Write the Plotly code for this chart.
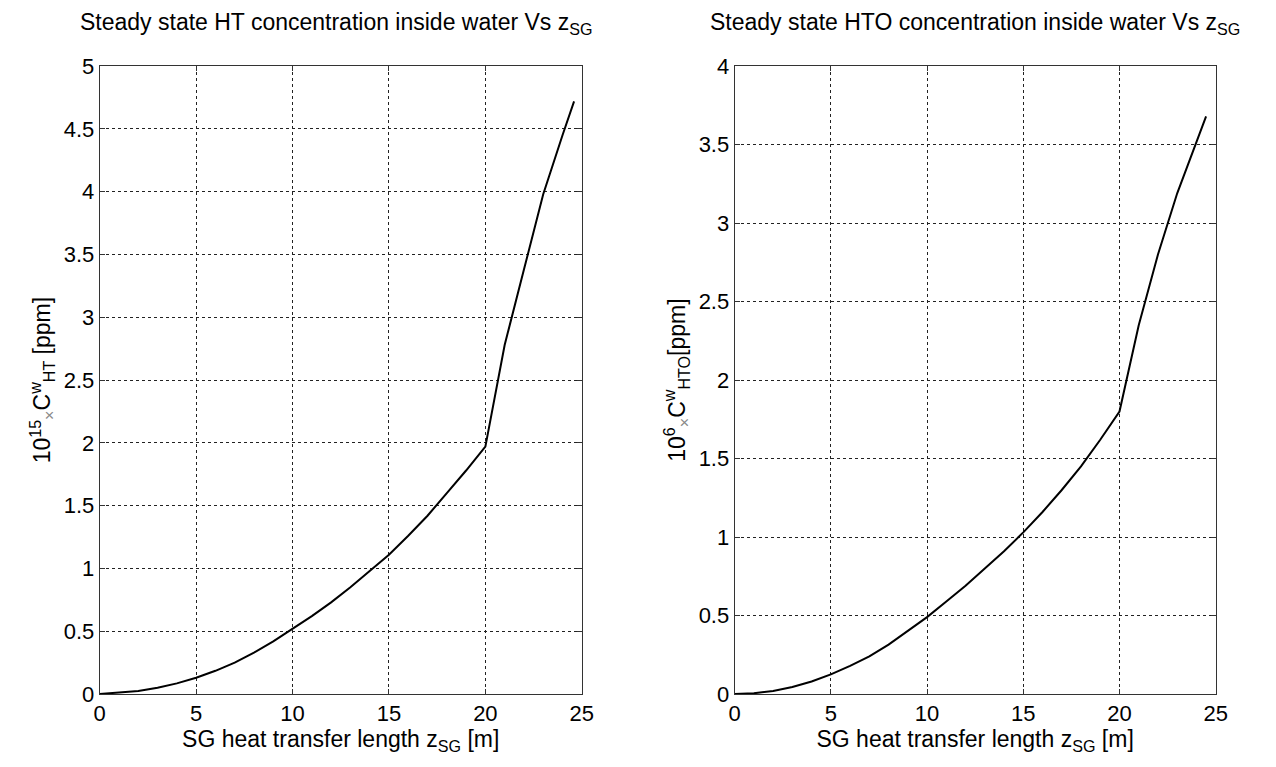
import plotly.graph_objects as go

# Data
z_ht = [0, 1, 2, 3, 4, 5, 6, 7, 8, 9, 10, 11, 12, 13, 14, 15, 16, 17, 18, 19, 20,
        21, 22, 23, 24, 24.6]
c_ht = [0.0, 0.01, 0.025, 0.05, 0.085, 0.13, 0.185, 0.25, 0.33, 0.42, 0.52, 0.62,
        0.73, 0.85, 0.98, 1.11, 1.26, 1.42, 1.6, 1.78, 1.97,
        2.78, 3.38, 3.98, 4.45, 4.72]

z_hto = [0, 1, 2, 3, 4, 5, 6, 7, 8, 9, 10, 11, 12, 13, 14, 15, 16, 17, 18, 19, 20,
         21, 22, 23, 24, 24.5]
c_hto = [0.0, 0.005, 0.02, 0.045, 0.08, 0.125, 0.18, 0.24, 0.315, 0.4, 0.49, 0.59,
         0.69, 0.8, 0.91, 1.03, 1.16, 1.3, 1.45, 1.62, 1.8,
         2.35, 2.8, 3.19, 3.51, 3.68]

x_ticks = [0, 5, 10, 15, 20, 25]
y_ticks_ht = [0, 0.5, 1, 1.5, 2, 2.5, 3, 3.5, 4, 4.5, 5]
y_ticks_hto = [0, 0.5, 1, 1.5, 2, 2.5, 3, 3.5, 4]

titles = ["Steady state HT concentration inside water Vs z<sub>SG</sub>",
          "Steady state HTO concentration inside water Vs z<sub>SG</sub>"]
x_label = "SG heat transfer length z<sub>SG</sub> [m]"
y_labels = ["10<sup>15</sup><sub><span style='color:#888'>×</span></sub>C<sup>w</sup><sub>HT</sub> [ppm]",
            "10<sup>6</sup><sub><span style='color:#888'>×</span></sub>C<sup>w</sup><sub>HTO</sub>[ppm]"]

FONT = "Liberation Sans, Arial, sans-serif"
TICK_SIZE = 22
TEXT_SIZE = 23

fig = go.Figure()
fig.add_trace(go.Scatter(x=z_ht, y=c_ht, mode="lines", line=dict(color="black", width=2),
                         xaxis="x", yaxis="y", showlegend=False))
fig.add_trace(go.Scatter(x=z_hto, y=c_hto, mode="lines", line=dict(color="black", width=2),
                         xaxis="x2", yaxis="y2", showlegend=False))

common_x = dict(range=[0, 25], tickvals=x_ticks, showgrid=True, gridcolor="#222",
                griddash="3px,3px", gridwidth=1, showline=True, linecolor="#333",
                linewidth=1, mirror="ticks", ticks="inside", ticklen=5,
                tickcolor="#333", zeroline=False,
                tickfont=dict(size=TICK_SIZE, color="black", family=FONT),
                title=dict(text=x_label, font=dict(size=TEXT_SIZE, color="black", family=FONT),
                           standoff=0))
common_y = dict(showgrid=True, gridcolor="#222", griddash="3px,3px", gridwidth=1,
                showline=True, linecolor="#333", linewidth=1, mirror="ticks",
                ticks="inside", ticklen=5, tickcolor="#333", zeroline=False,
                tickfont=dict(size=TICK_SIZE, color="black", family=FONT))

fig.update_layout(
    width=1276, height=767,
    margin=dict(l=0, r=0, t=0, b=0),
    paper_bgcolor="white", plot_bgcolor="white",
    font=dict(family=FONT, color="black"),
    xaxis=dict(domain=[0.0745, 0.4577], anchor="y", **common_x),
    xaxis2=dict(domain=[0.5792, 0.9616], anchor="y2", **common_x),
    yaxis=dict(domain=[0.0808, 0.927], anchor="x", range=[0, 5], tickvals=y_ticks_ht,
               ticktext=[f"{v:g}" for v in y_ticks_ht],
               title=dict(text=y_labels[0], font=dict(size=TEXT_SIZE, color="black", family=FONT),
                          standoff=6),
               **common_y),
    yaxis2=dict(domain=[0.0808, 0.927], anchor="x2", range=[0, 4], tickvals=y_ticks_hto,
                ticktext=[f"{v:g}" for v in y_ticks_hto],
                title=dict(text=y_labels[1], font=dict(size=TEXT_SIZE, color="black", family=FONT),
                           standoff=6),
                **common_y),
    annotations=[
        dict(text=titles[0], x=0.262, y=0.962, xref="paper", yref="paper",
             xanchor="center", yanchor="bottom", showarrow=False,
             font=dict(size=TEXT_SIZE, color="black", family=FONT)),
        dict(text=titles[1], x=0.770, y=0.962, xref="paper", yref="paper",
             xanchor="center", yanchor="bottom", showarrow=False,
             font=dict(size=TEXT_SIZE, color="black", family=FONT)),
    ],
)

fig.write_html("out.html")
